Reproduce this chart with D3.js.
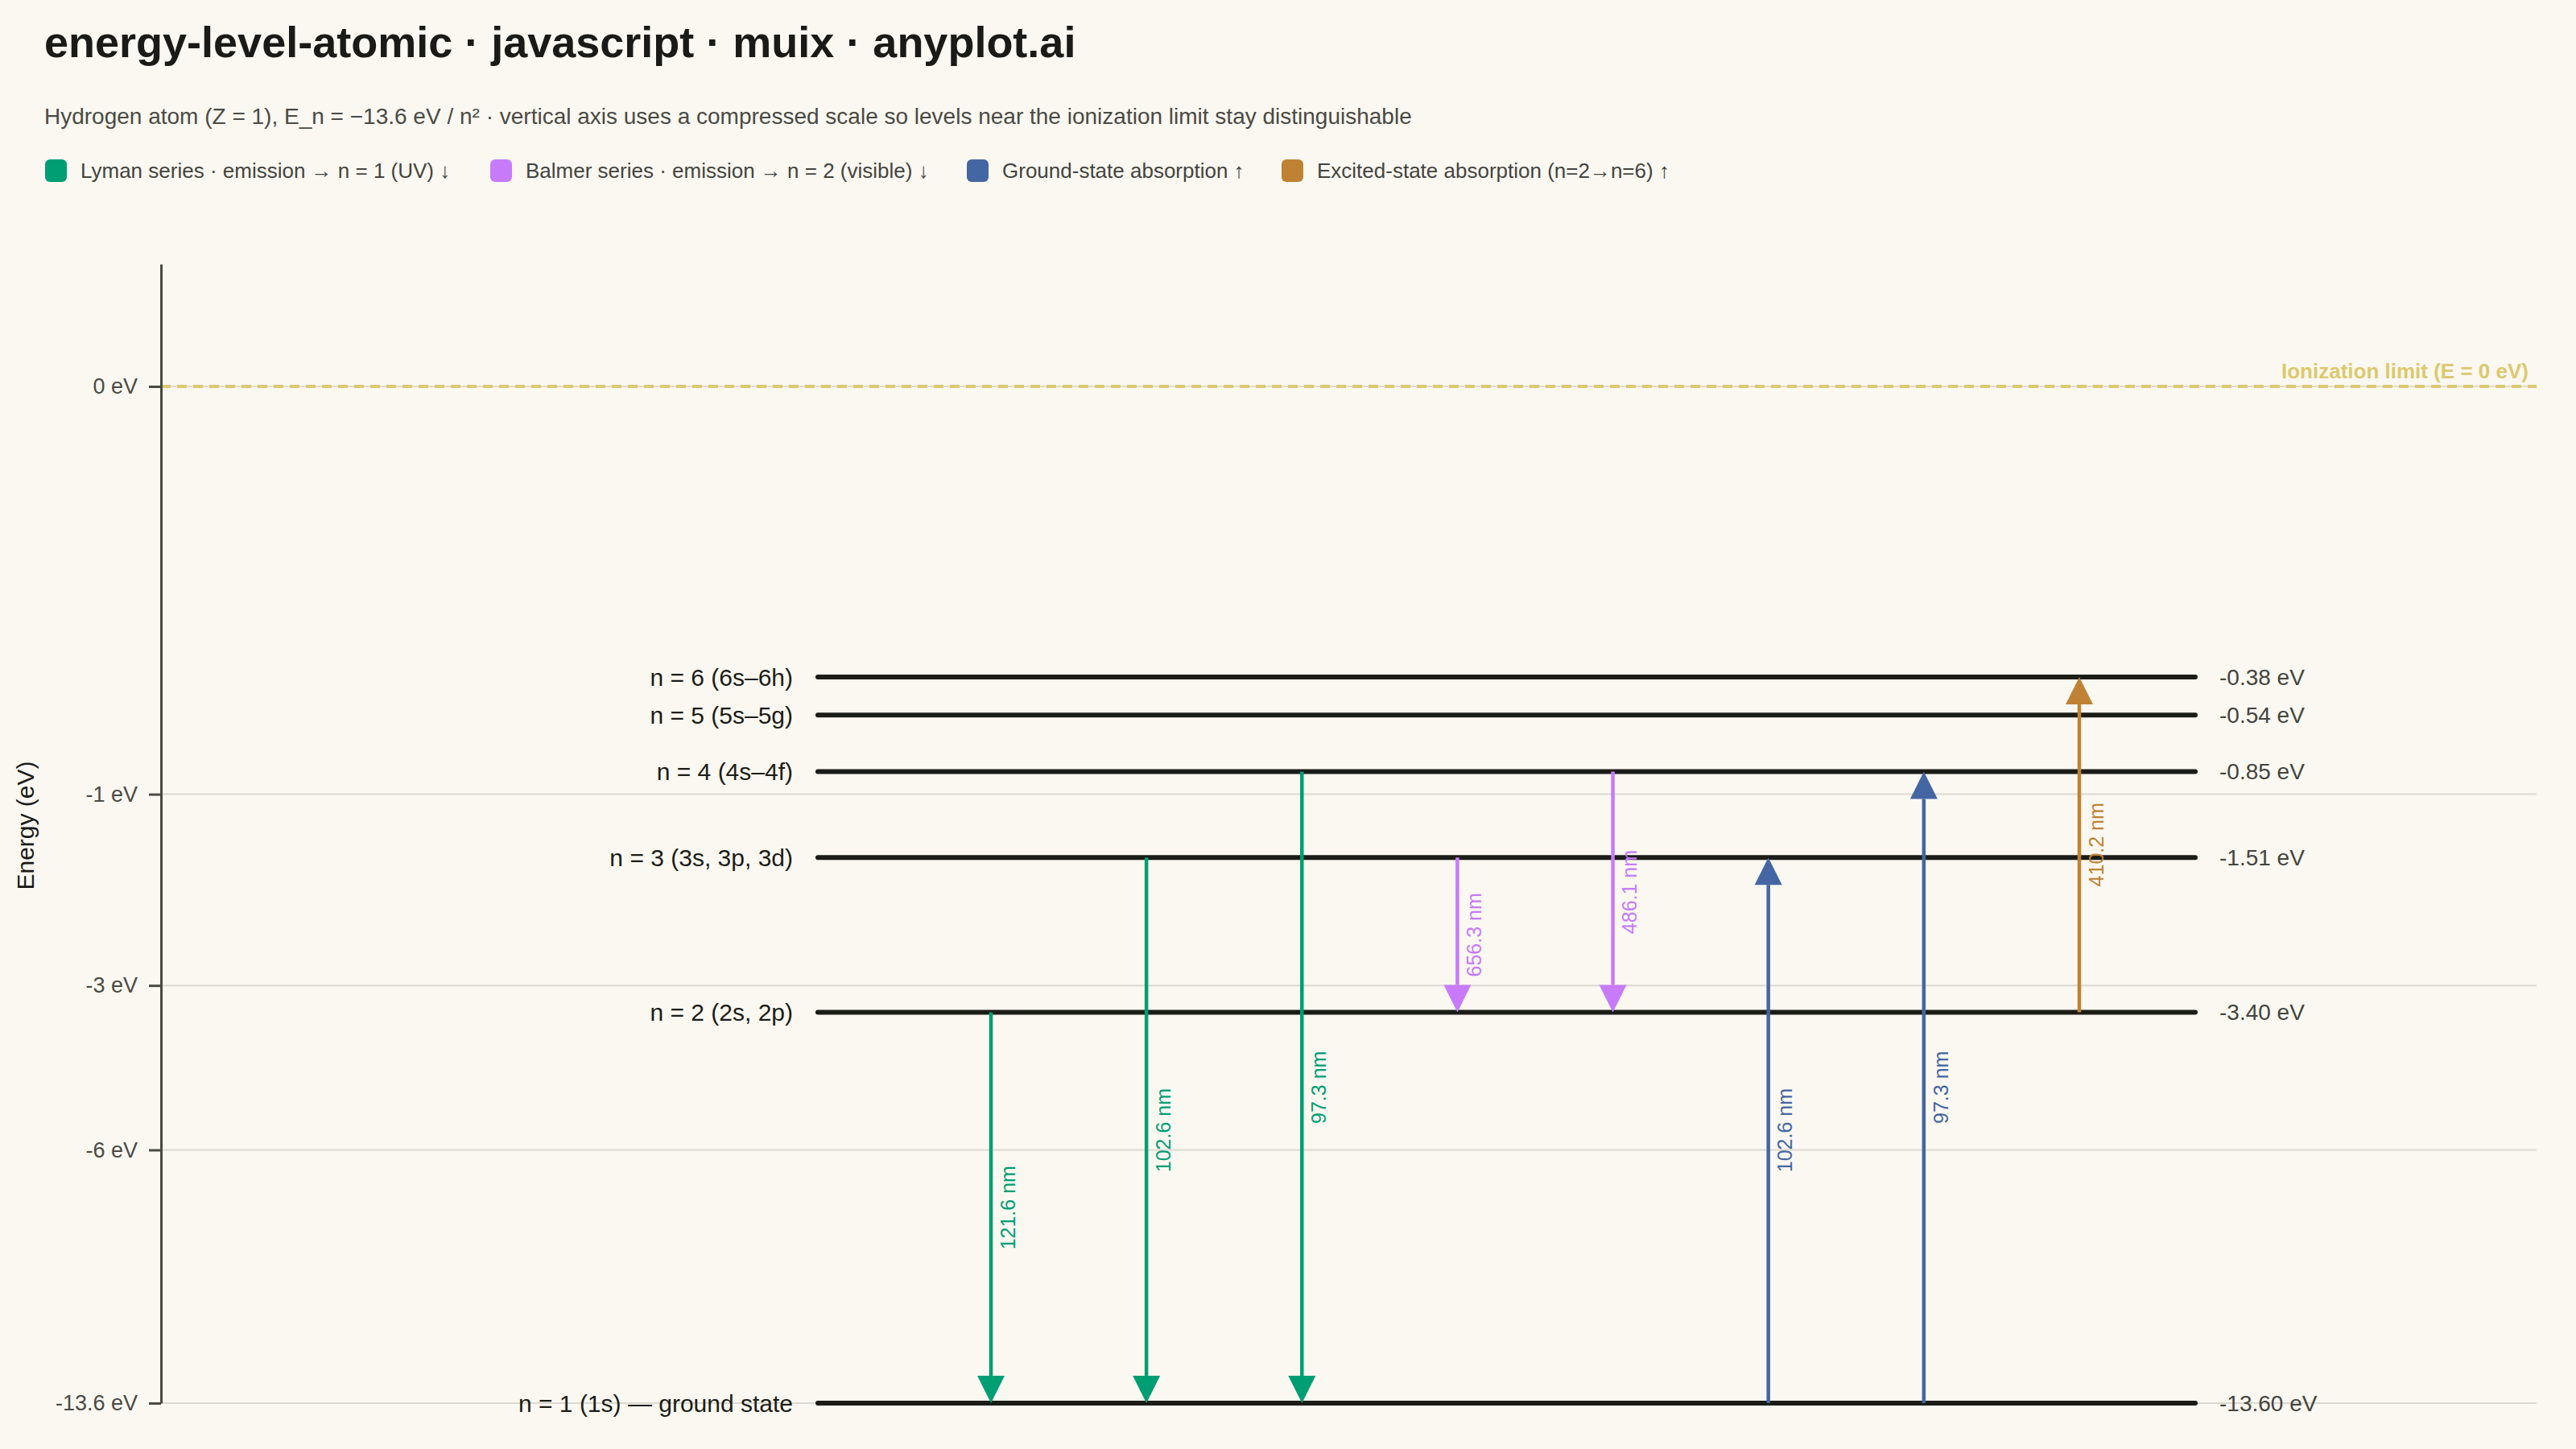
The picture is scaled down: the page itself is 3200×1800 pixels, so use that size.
<!DOCTYPE html>
<html>
<head>
<meta charset="utf-8">
<script src="https://cdn.jsdelivr.net/npm/d3@7"></script>
<style>
  html, body { margin: 0; padding: 0; background: #FAF8F1; }
  svg { display: block; font-family: "Liberation Sans", Arial, sans-serif; }
</style>
</head>
<body>
<div class="layout"></div>
<script>
// energy levels of hydrogen
const levelN = [1, 2, 3, 4, 5, 6];
const levelEnergy = [-13.6, -3.4, -1.51, -0.85, -0.54, -0.38];
const levelLabels = [
  "n = 1 (1s) — ground state",
  "n = 2 (2s, 2p)",
  "n = 3 (3s, 3p, 3d)",
  "n = 4 (4s–4f)",
  "n = 5 (5s–5g)",
  "n = 6 (6s–6h)"
];

// transitions, in drawing order left to right
const transFrom = [2, 3, 4, 3, 4, 1, 1, 2];
const transTo = [1, 1, 1, 2, 2, 3, 4, 6];
const transWavelength = [121.6, 102.6, 97.3, 656.3, 486.1, 102.6, 97.3, 410.2];
const transSeries = ["lyman", "lyman", "lyman", "balmer", "balmer", "ground", "ground", "excited"];

// series for the legend
const seriesKeys = ["lyman", "balmer", "ground", "excited"];
const seriesNames = [
  "Lyman series · emission → n = 1 (UV) ↓",
  "Balmer series · emission → n = 2 (visible) ↓",
  "Ground-state absorption ↑",
  "Excited-state absorption (n=2→n=6) ↑"
];
const seriesColors = ["#009E73", "#C77BFA", "#4466A3", "#BF8234"];

const yTicks = [0, -1, -3, -6, -13.6];

function drawChart() {
  const width = 3200;
  const height = 1800;
  const margin = { top: 328, right: 49, bottom: 57, left: 200 };

  const svg = d3.select("div.layout")
    .append("svg")
    .attr("width", width)
    .attr("height", height);

  svg.append("rect")
    .attr("width", width)
    .attr("height", height)
    .attr("fill", "#FAF8F1");

  // title and subtitle
  svg.append("text")
    .attr("x", 55)
    .attr("y", 71)
    .attr("font-size", 54)
    .attr("font-weight", "bold")
    .attr("fill", "#1a1a17")
    .text("energy-level-atomic · javascript · muix · anyplot.ai");

  svg.append("text")
    .attr("x", 55)
    .attr("y", 154)
    .attr("font-size", 28)
    .attr("fill", "#4a4a44")
    .text("Hydrogen atom (Z = 1), E_n = −13.6 eV / n² · vertical axis uses a compressed scale so levels near the ionization limit stay distinguishable");

  // legend
  const color = d3.scaleOrdinal().domain(seriesKeys).range(seriesColors);
  const legendX = [56, 609, 1201, 1592];

  const legend = svg.selectAll("g.legend")
    .data(seriesKeys)
    .enter()
    .append("g")
    .attr("class", "legend")
    .attr("transform", function (d, i) {
      return "translate(" + legendX[i] + ", 212)";
    });

  legend.append("rect")
    .attr("x", 0)
    .attr("y", -14)
    .attr("width", 27)
    .attr("height", 28)
    .attr("rx", 6)
    .attr("fill", function (d) { return color(d); });

  legend.append("text")
    .attr("x", 44)
    .attr("y", 9)
    .attr("font-size", 26)
    .attr("fill", "#44443e")
    .text(function (d, i) { return seriesNames[i]; });

  // scales
  const plotLeft = margin.left;
  const plotRight = width - margin.right;
  const plotTop = margin.top;
  const plotBottom = height - margin.bottom;

  // compressed energy axis: sign-preserving power scale
  const y = d3.scalePow()
    .exponent(0.35)
    .domain([-13.6, Math.pow(0.3, 1 / 0.35)])
    .range([plotBottom, plotTop]);

  const levelX0 = 1016;
  const levelX1 = 2727;

  const x = d3.scalePoint()
    .domain(d3.range(transFrom.length))
    .range([levelX0 + 215, levelX1 - 144]);

  function levelY(n) {
    return y(levelEnergy[levelN.indexOf(n)]);
  }

  // grid lines
  svg.append("g")
    .attr("class", "grid")
    .selectAll("line")
    .data(yTicks)
    .enter()
    .append("line")
    .attr("x1", plotLeft)
    .attr("x2", plotRight)
    .attr("y1", function (d) { return y(d); })
    .attr("y2", function (d) { return y(d); })
    .attr("stroke", "#DCD9D0")
    .attr("stroke-width", 2);

  // ionization limit
  svg.append("line")
    .attr("x1", plotLeft)
    .attr("x2", plotRight)
    .attr("y1", y(0))
    .attr("y2", y(0))
    .attr("stroke", "#DCC96E")
    .attr("stroke-width", 4)
    .attr("stroke-dasharray", "12,8");

  svg.append("text")
    .attr("x", plotRight - 10)
    .attr("y", y(0) - 10)
    .attr("text-anchor", "end")
    .attr("font-size", 26)
    .attr("font-weight", "bold")
    .attr("fill", "#DCC96E")
    .text("Ionization limit (E = 0 eV)");

  // y axis
  const yAxis = svg.append("g")
    .attr("class", "yAxis")
    .attr("transform", "translate(" + plotLeft + ", 0)")
    .call(d3.axisLeft(y)
      .tickValues(yTicks)
      .tickSizeInner(15)
      .tickSizeOuter(0)
      .tickPadding(14)
      .tickFormat(function (d) { return d + " eV"; }));

  yAxis.select(".domain")
    .attr("stroke", "#4a4a44")
    .attr("stroke-width", 3);
  yAxis.selectAll(".tick line")
    .attr("stroke", "#4a4a44")
    .attr("stroke-width", 3);
  yAxis.selectAll(".tick text")
    .attr("font-size", 27)
    .attr("font-family", "Liberation Sans, Arial, sans-serif")
    .attr("fill", "#4a4a44");

  svg.append("text")
    .attr("transform", "translate(42, " + ((plotTop + plotBottom) / 2 - 10) + ") rotate(-90)")
    .attr("text-anchor", "middle")
    .attr("font-size", 30)
    .attr("fill", "#1a1a17")
    .text("Energy (eV)");

  // energy levels
  const levels = svg.append("g").attr("class", "levels");

  levels.selectAll("line")
    .data(levelN)
    .enter()
    .append("line")
    .attr("x1", levelX0)
    .attr("x2", levelX1)
    .attr("y1", function (d) { return levelY(d); })
    .attr("y2", function (d) { return levelY(d); })
    .attr("stroke", "#1c1c17")
    .attr("stroke-width", 6)
    .attr("stroke-linecap", "round");

  levels.selectAll("text.levelName")
    .data(levelN)
    .enter()
    .append("text")
    .attr("class", "levelName")
    .attr("x", levelX0 - 31)
    .attr("y", function (d) { return levelY(d); })
    .attr("dy", "0.35em")
    .attr("text-anchor", "end")
    .attr("font-size", 30)
    .attr("fill", "#1c1c17")
    .text(function (d, i) { return levelLabels[i]; });

  levels.selectAll("text.levelValue")
    .data(levelN)
    .enter()
    .append("text")
    .attr("class", "levelValue")
    .attr("x", levelX1 + 30)
    .attr("y", function (d) { return levelY(d); })
    .attr("dy", "0.35em")
    .attr("font-size", 28)
    .attr("fill", "#44443e")
    .text(function (d, i) { return levelEnergy[i].toFixed(2) + " eV"; });

  // transitions
  const headLen = 34;
  const headHalf = 17;

  const trans = svg.append("g")
    .attr("class", "transitions")
    .selectAll("g")
    .data(d3.range(transFrom.length))
    .enter()
    .append("g");

  trans.append("line")
    .attr("x1", function (i) { return x(i); })
    .attr("x2", function (i) { return x(i); })
    .attr("y1", function (i) { return levelY(transFrom[i]); })
    .attr("y2", function (i) {
      const y0 = levelY(transFrom[i]);
      const y1 = levelY(transTo[i]);
      return y1 > y0 ? y1 - headLen : y1 + headLen;
    })
    .attr("stroke", function (i) { return color(transSeries[i]); })
    .attr("stroke-width", 4.5);

  trans.append("path")
    .attr("d", function (i) {
      const xi = x(i);
      const y0 = levelY(transFrom[i]);
      const y1 = levelY(transTo[i]);
      const base = y1 > y0 ? y1 - headLen : y1 + headLen;
      return "M" + xi + "," + y1 + "L" + (xi - headHalf) + "," + base + "L" + (xi + headHalf) + "," + base + "Z";
    })
    .attr("fill", function (i) { return color(transSeries[i]); });

  trans.append("text")
    .attr("transform", function (i) {
      const ym = (levelY(transFrom[i]) + levelY(transTo[i])) / 2;
      return "translate(" + (x(i) + 21) + ", " + ym + ") rotate(-90)";
    })
    .attr("text-anchor", "middle")
    .attr("dy", "0.35em")
    .attr("font-size", 25)
    .attr("fill", function (i) { return color(transSeries[i]); })
    .text(function (i) { return transWavelength[i].toFixed(1) + " nm"; });
}

drawChart();
</script>
</body>
</html>
